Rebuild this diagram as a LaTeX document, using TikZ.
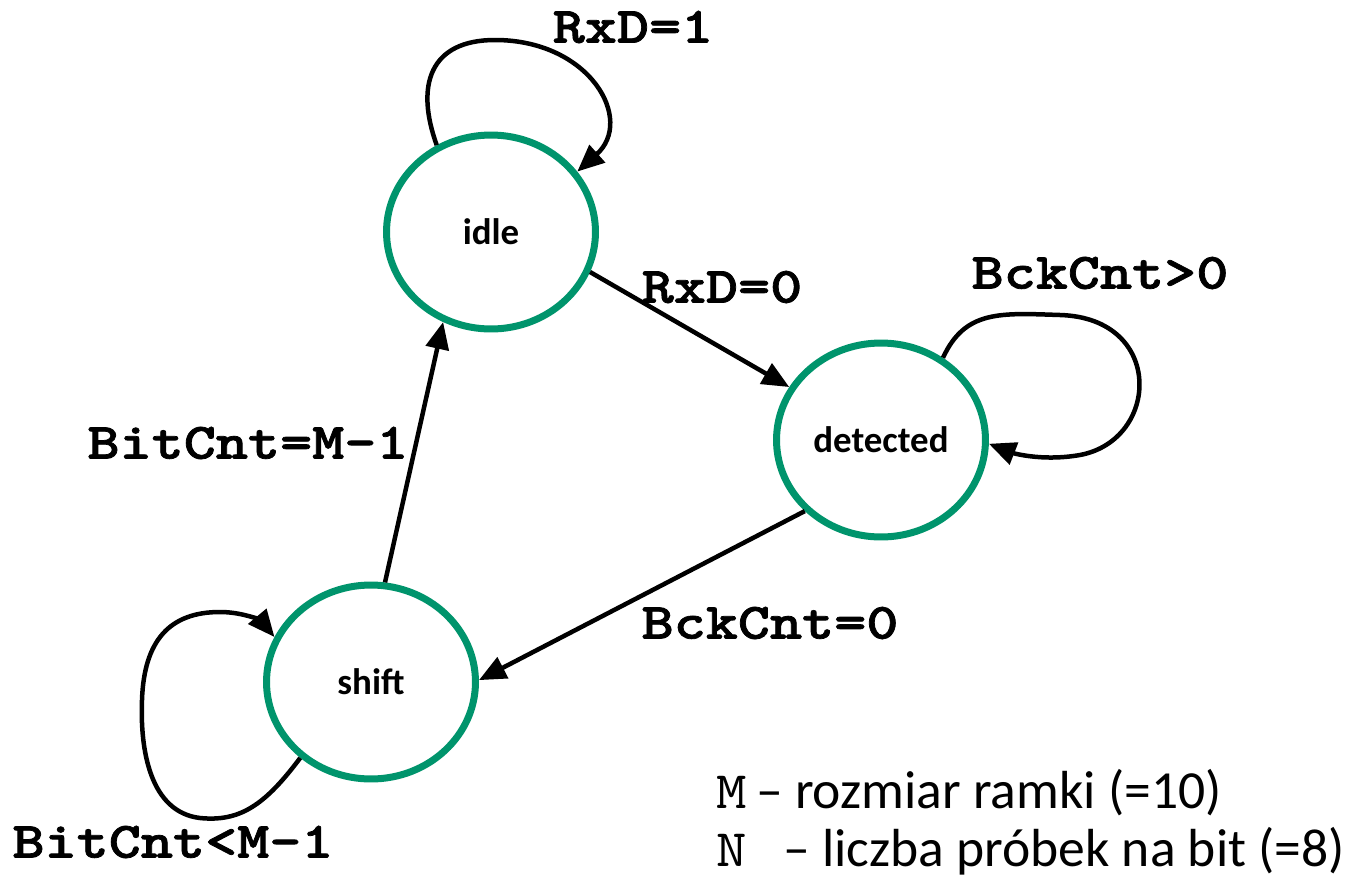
\documentclass[tikz,border=0pt]{standalone}
\usepackage{fontspec}
\setmainfont{Carlito}
\newfontfamily\condfont{lmmonolt10-bold.otf}[FakeStretch=1.2,FakeBold=1.5]
\newfontfamily\varfont{lmmono10-regular.otf}[FakeStretch=1.1]
\usetikzlibrary{arrows.meta,shapes.geometric}
\definecolor{stgreen}{RGB}{0,148,108}
\tikzset{
  state/.style={ellipse, draw=stgreen, line width=0.14cm, minimum width=4.18cm, minimum height=3.88cm, inner sep=0pt,
    font=\fontsize{21}{24}\selectfont\bfseries},
  edge/.style={line width=0.09cm, -{Triangle[length=0.54cm,width=0.46cm]}},
  cond/.style={inner sep=0pt, font=\fontsize{29}{34}\selectfont\condfont},
  legvar/.style={inner sep=0pt, anchor=base west, font=\fontsize{30}{34}\selectfont\varfont},
  legtext/.style={inner sep=0pt, anchor=base west, font=\fontsize{30.5}{34}\selectfont},
}
\begin{document}
\begin{tikzpicture}[x=0.02cm,y=-0.02cm]
\useasboundingbox (0,0) rectangle (1347,880);
\node[state] (idle) at (491,232) {idle};
\node[state] (detected) at (881,440) {detected};
\node[state] (shift) at (371,682) {shift};

% transitions
\draw[edge] (idle.-22) -- (detected.150);
\draw[edge] (detected.223) -- (shift.1);
\draw[edge] (shift.82) -- (idle.242);

% self loops
\draw[edge] (idle.122) .. controls (415,85) and (430,40) .. (495,40)
  .. controls (590,40) and (635,120) .. (idle.35);
\draw[edge] (detected.53) .. controls (965,310) and (1000,313) .. (1060,315)
  .. controls (1165,318) and (1160,440) .. (1080,455)
  .. controls (1040,462) and (1010,452) .. (detected.-2);
\draw[edge] (shift.227) .. controls (265,805) and (240,822) .. (200,818)
  .. controls (150,812) and (140,750) .. (142,700)
  .. controls (144,640) and (170,612) .. (220,612)
  .. controls (245,612) and (262,622) .. (shift.155);

% labels
\node[cond] (l1) at (633,27) {RxD=1};
\node[cond] (l2) at (722,287) {RxD=0};
\node[cond] (l3) at (1100,273) {BckCnt>0};
\node[cond] (l4) at (248,443) {BitCnt=M-1};
\node[cond] (l5) at (770,623) {BckCnt=0};
\node[cond] (l6) at (173,842) {BitCnt<M-1};

% legend
\node[legvar] (m) at (716,808) {M};
\node[legtext] (mt) at (756,808) {– rozmiar ramki (=10)};
\node[legvar] (n) at (716,866) {N};
\node[legtext] (nt) at (783,866) {– liczba próbek na bit (=8)};
\end{tikzpicture}
\end{document}
